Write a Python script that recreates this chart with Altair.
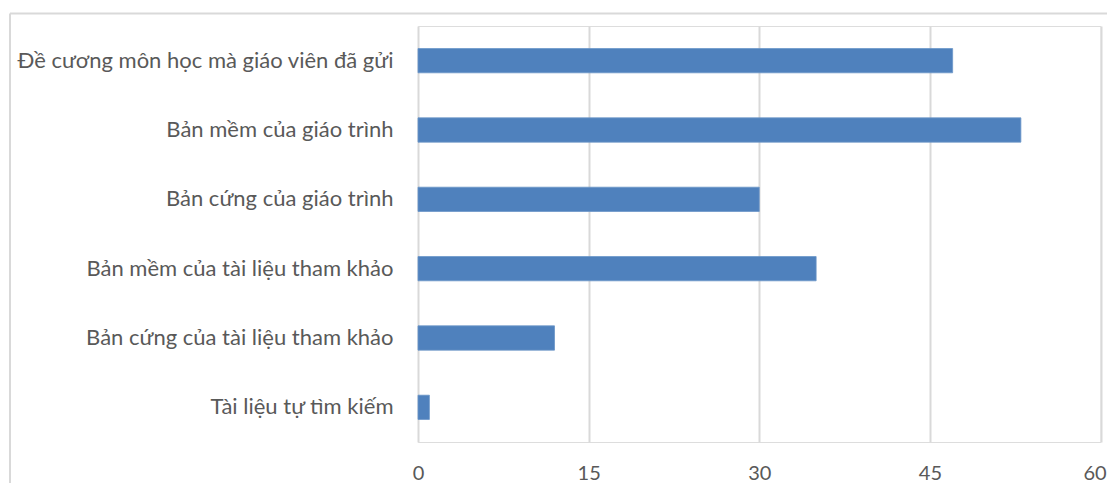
import altair as alt
import pandas as pd

categories = [
    "Đề cương môn học mà giáo viên đã gửi",
    "Bản mềm của giáo trình",
    "Bản cứng của giáo trình",
    "Bản mềm của tài liệu tham khảo",
    "Bản cứng của tài liệu tham khảo",
    "Tài liệu tự tìm kiếm",
]
values = [47, 53, 30, 35, 12, 1]
x_ticks = [0, 15, 30, 45, 60]

df = pd.DataFrame({"category": categories, "value": values})

W, H = 682.5, 416
FONT = "Lato"
GRAY = "#595959"
GRID = "#D9D9D9"

bars = alt.Chart(df).mark_bar(color="#4F81BD", stroke="#6B95C8", strokeWidth=0.8).encode(
    x=alt.X("value:Q",
            scale=alt.Scale(domain=[0, 60], nice=False),
            axis=alt.Axis(values=x_ticks, title=None, grid=True, gridColor=GRID,
                          gridWidth=2, domain=False, ticks=False, labelFlush=False,
                          labelOffset={"condition": {"test": "datum.value == 60", "value": -6},
                                       "value": 0},
                          labelFont=FONT, labelFontSize=20, labelColor=GRAY,
                          labelPadding=21)),
    y=alt.Y("category:N", sort=categories,
            scale=alt.Scale(paddingInner=0.65, paddingOuter=0.325),
            axis=alt.Axis(title=None, domain=False, ticks=False, grid=False,
                          labelFont=FONT, labelFontSize=22, labelColor=GRAY,
                          labelPadding=25, labelLimit=500)),
)

frame = alt.Chart(alt.Data(values=[{"a": 1}])).mark_rule(color=GRID, strokeWidth=2)
left_border = frame.encode(x=alt.value(-408), y=alt.value(-12.5), y2=alt.value(H + 60))
top_border = frame.encode(x=alt.value(-408), x2=alt.value(720), y=alt.value(-12.5))

chart = alt.layer(left_border, top_border, bars).properties(
    width=W, height=H,
    autosize=alt.AutoSizeParams(type="none"),
    padding={"left": 410, "top": 18, "right": 6, "bottom": 44},
).configure_view(stroke=None).configure(background="white")

chart.save("out.html", embed_options={"renderer": "svg", "actions": False})
